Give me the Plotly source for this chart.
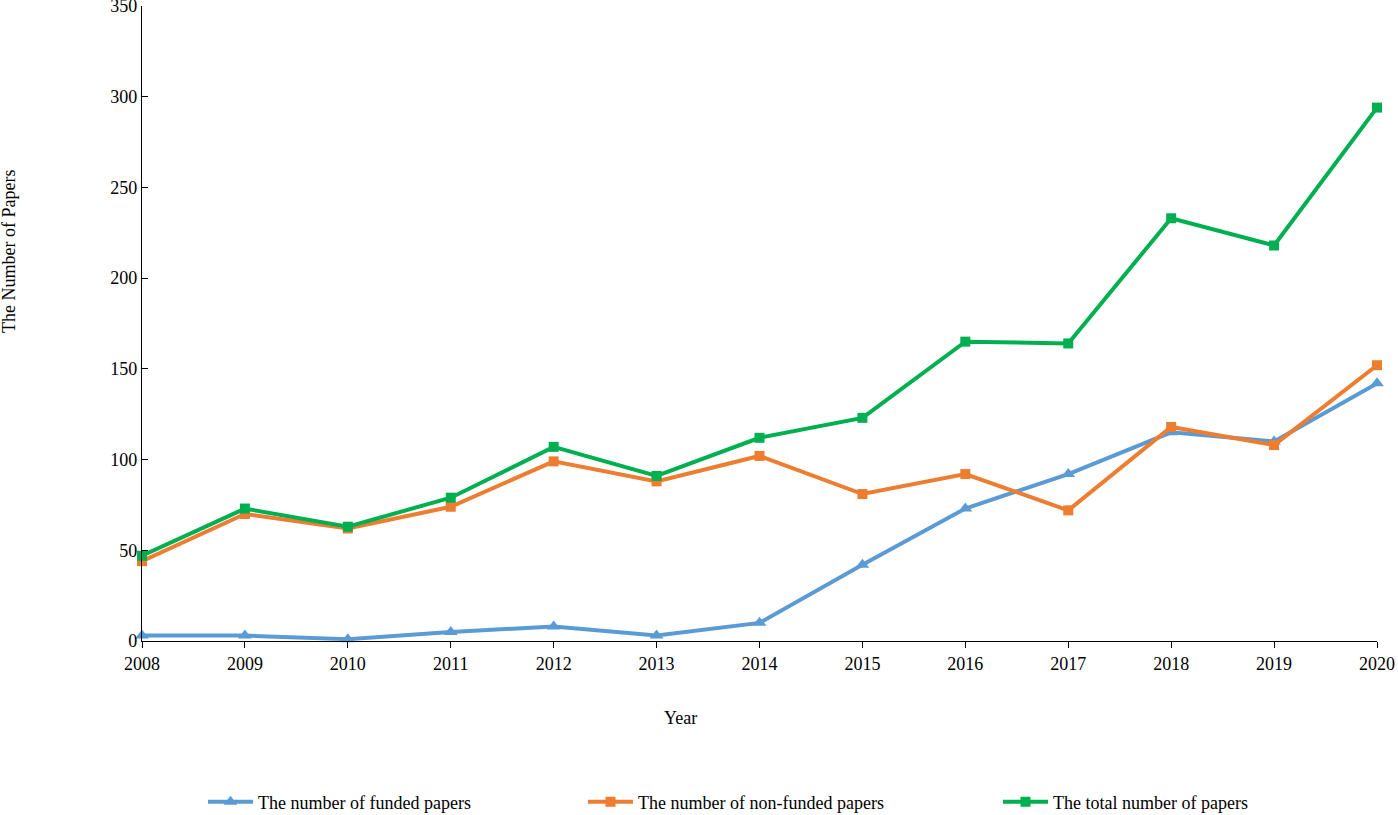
import plotly.graph_objects as go

years = [2008, 2009, 2010, 2011, 2012, 2013, 2014, 2015, 2016, 2017, 2018, 2019, 2020]
funded = [3, 3, 1, 5, 8, 3, 10, 42, 73, 92, 115, 110, 142]
non_funded = [44, 70, 62, 74, 99, 88, 102, 81, 92, 72, 118, 108, 152]
total = [47, 73, 63, 79, 107, 91, 112, 123, 165, 164, 233, 218, 294]
y_ticks = [0, 50, 100, 150, 200, 250, 300, 350]

names = ["The number of funded papers", "The number of non-funded papers", "The total number of papers"]
colors = ["#5B9BD5", "#ED7D31", "#00B050"]
symbols = ["triangle-up", "square", "square"]
series = [funded, non_funded, total]
legends = ["legend", "legend2", "legend3"]

fig = go.Figure()
for name, col, sym, vals, lg in zip(names, colors, symbols, series, legends):
    fig.add_trace(go.Scatter(
        x=years, y=vals, name=name, mode="lines+markers",
        line=dict(color=col, width=4),
        marker=dict(symbol=sym, size=12 if sym == "triangle-up" else 10, color=col),
        legend=lg, cliponaxis=False,
    ))

font = dict(family="Liberation Serif, Times New Roman, serif", size=18, color="black")
L, R, T, B = 142, 21, 6, 174
W, H = 1398, 815
pw, ph = W - L - R, H - T - B

def px_x(p):
    return (p - L) / pw

def px_y(p):
    return (H - B - p) / ph

leg_common = dict(orientation="h", yanchor="middle", xanchor="left",
                  xref="container", yref="container", y=1 - 802 / H,
                  font=font, bgcolor="rgba(0,0,0,0)", itemwidth=45)

fig.update_layout(
    width=W, height=H,
    margin=dict(l=L, r=R, t=T, b=B, autoexpand=False),
    paper_bgcolor="white", plot_bgcolor="white",
    font=font,
    showlegend=True,
    legend=dict(x=203 / W, **leg_common),
    legend2=dict(x=583 / W, **leg_common),
    legend3=dict(x=998 / W, **leg_common),
    xaxis=dict(
        range=[2008, 2020], tickmode="array", tickvals=years,
        ticktext=[str(y) for y in years],
        showline=True, linecolor="black", linewidth=1.2,
        ticks="outside", ticklen=6, tickcolor="black",
        showgrid=False, zeroline=False, tickfont=font, automargin=False,
        ticklabeloverflow="allow",
    ),
    yaxis=dict(
        range=[0, 350], tickmode="array", tickvals=y_ticks,
        showline=True, linecolor="black", linewidth=1.2,
        ticks="inside", ticklen=6, tickcolor="black",
        showgrid=False, zeroline=False, tickfont=font, automargin=False,
        ticklabeloverflow="allow",
    ),
    annotations=[
        dict(text="The Number of Papers", xref="paper", yref="paper",
             x=px_x(9), y=px_y(252), textangle=-90, showarrow=False,
             font=font, xanchor="center", yanchor="middle"),
        dict(text="Year", xref="paper", yref="paper",
             x=px_x(680), y=px_y(718), showarrow=False,
             font=font, xanchor="center", yanchor="middle"),
    ],
)

fig.write_html("out.html", post_script="document.body.style.margin='0';",
               config={"displayModeBar": False})
